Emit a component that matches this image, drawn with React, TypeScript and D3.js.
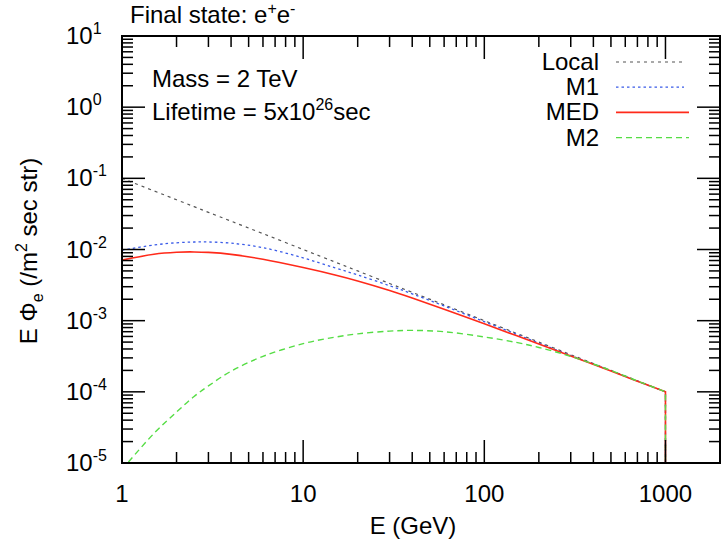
import React from 'react';
import * as d3 from 'd3';

const energies = [1, 1.5, 2, 2.5, 3, 4, 6, 10, 15, 20, 30, 40, 60, 100, 150, 200, 300, 500, 700, 1000];
const localFlux = [0.1, 0.0667, 0.05, 0.04, 0.0333, 0.025, 0.0167, 0.01, 0.00667, 0.005, 0.00333, 0.0025, 0.00167, 0.001, 6.67e-4, 5.0e-4, 3.33e-4, 2.0e-4, 1.43e-4, 1.0e-4];
const m1Flux = [0.00977, 0.01157, 0.01242, 0.01274, 0.01276, 0.01227, 0.01062, 0.00762, 0.00552, 0.00439, 0.0031, 0.00238, 0.00161, 9.68e-4, 6.46e-4, 4.84e-4, 3.24e-4, 1.98e-4, 1.41e-4, 1.0e-4];
const medFlux = [0.00708, 0.00859, 0.00916, 0.00924, 0.0091, 0.00855, 0.00729, 0.00557, 0.00438, 0.00361, 0.00265, 0.00208, 0.00145, 9.02e-4, 6.17e-4, 4.7e-4, 3.2e-4, 1.96e-4, 1.41e-4, 1.0e-4];
const m2Flux = [8.1e-6, 2.6e-5, 5.2e-5, 8.6e-5, 1.21e-4, 1.95e-4, 3.15e-4, 4.75e-4, 5.87e-4, 6.53e-4, 7.14e-4, 7.3e-4, 7.0e-4, 5.9e-4, 4.95e-4, 4.2e-4, 3.15e-4, 2.0e-4, 1.42e-4, 1.0e-4];

const xMajorTicks = [1, 10, 100, 1000];
const xTickLabels = ['1', '10', '100', '1000'];
const yMajorExps = [-5, -4, -3, -2, -1, 0, 1];
const seriesNames = ['Local', 'M1', 'MED', 'M2'];

const W = 724, H = 541;
const L = 122, R = 720, T = 36, B = 463;
const FONT = '"Liberation Sans", Arial, Helvetica, sans-serif';
const FS = 24, SFS = 16;

const styles = [
  { color: '#555555', dash: '3,4', width: 1.2 },
  { color: '#3a5be8', dash: '2.5,3', width: 1.3 },
  { color: '#ff2a1a', dash: 'none', width: 1.6 },
  { color: '#55dd44', dash: '6,4', width: 1.4 },
];

export default function App() {
  const x = d3.scaleLog().domain([1, 2000]).range([L, R]);
  const y = d3.scaleLog().domain([1e-5, 10]).range([B, T]);
  const series = [localFlux, m1Flux, medFlux, m2Flux];

  const line = d3
    .line<number>()
    .x((_, i) => x(energies[i]))
    .y((d) => y(d))
    .curve(d3.curveCatmullRom.alpha(0.5));

  const xMinor: number[] = [];
  for (let k = 0; k <= 3; k++) for (let m = 2; m <= 9; m++) { const v = m * 10 ** k; if (v <= 2000) xMinor.push(v); }
  const yMinor: number[] = [];
  for (let k = -5; k <= 0; k++) for (let m = 2; m <= 9; m++) yMinor.push(m * 10 ** k);

  const MAJ = 23, MIN = 11;
  const lastE = energies[energies.length - 1];

  return (
    <svg width={W} height={H} style={{ position: 'absolute', left: 0, top: 0, background: '#fff' }} fontFamily={FONT}>
      <defs>
        <clipPath id="plotclip">
          <rect x={L} y={T} width={R - L} height={B - T} />
        </clipPath>
      </defs>
      <rect x={0} y={0} width={W} height={H} fill="#fff" />
      {/* curves */}
      <g clipPath="url(#plotclip)">
        {series.map((s, i) => (
          <path
            key={seriesNames[i]}
            d={(line(s) as string) + `L${x(lastE)},${B}`}
            fill="none"
            stroke={styles[i].color}
            strokeWidth={styles[i].width}
            strokeDasharray={styles[i].dash}
          />
        ))}
      </g>
      {/* ticks */}
      <g stroke="#000" strokeWidth={1.5}>
        {xMajorTicks.map((v) => (
          <g key={'xm' + v}>
            <line x1={x(v)} x2={x(v)} y1={B} y2={B - MAJ} />
            <line x1={x(v)} x2={x(v)} y1={T} y2={T + MAJ} />
          </g>
        ))}
        {xMinor.map((v) => (
          <g key={'xn' + v}>
            <line x1={x(v)} x2={x(v)} y1={B} y2={B - MIN} />
            <line x1={x(v)} x2={x(v)} y1={T} y2={T + MIN} />
          </g>
        ))}
        {yMajorExps.map((e) => (
          <g key={'ym' + e}>
            <line x1={L} x2={L + MAJ} y1={y(10 ** e)} y2={y(10 ** e)} />
            <line x1={R} x2={R - MAJ} y1={y(10 ** e)} y2={y(10 ** e)} />
          </g>
        ))}
        {yMinor.map((v) => (
          <g key={'yn' + v}>
            <line x1={L} x2={L + MIN} y1={y(v)} y2={y(v)} />
            <line x1={R} x2={R - MIN} y1={y(v)} y2={y(v)} />
          </g>
        ))}
      </g>
      <rect x={L} y={T} width={R - L} height={B - T} fill="none" stroke="#000" strokeWidth={2} />
      {/* x tick labels */}
      {xMajorTicks.map((v, i) => (
        <text key={'xl' + v} x={x(v)} y={502} textAnchor="middle" fontSize={FS} fill="#000">
          {xTickLabels[i]}
        </text>
      ))}
      {/* y tick labels */}
      {yMajorExps.map((e) => (
        <text key={'yl' + e} x={66} y={y(10 ** e) + 8} fontSize={FS} fill="#000">
          10<tspan dy={-10} fontSize={SFS}>{String(e)}</tspan>
        </text>
      ))}
      {/* axis titles */}
      <text x={413} y={534} textAnchor="middle" fontSize={FS} fill="#000">E (GeV)</text>
      <text transform="translate(37,251) rotate(-90)" textAnchor="middle" fontSize={FS} fill="#000">
        E Φ<tspan dy={6} fontSize={SFS}>e</tspan>
        <tspan dy={-6}> (/m</tspan>
        <tspan dy={-10} fontSize={SFS}>2</tspan>
        <tspan dy={10}> sec str)</tspan>
      </text>
      {/* annotations */}
      <text x={130} y={23} fontSize={FS} fill="#000">
        Final state: e<tspan dy={-9} fontSize={SFS}>+</tspan>
        <tspan dy={9}>e</tspan>
        <tspan dy={-9} fontSize={SFS}>-</tspan>
      </text>
      <text x={152} y={87} fontSize={FS} fill="#000">Mass = 2 TeV</text>
      <text x={152} y={120} fontSize={FS} fill="#000">
        Lifetime = 5x10<tspan dy={-10} fontSize={SFS}>26</tspan>
        <tspan dy={10}>sec</tspan>
      </text>
      {/* legend */}
      {seriesNames.map((n, i) => {
        const yy = 62 + i * 25.2;
        return (
          <g key={'lg' + n}>
            <text x={599} y={yy + 8} textAnchor="end" fontSize={FS} fill="#000">{n}</text>
            <line x1={616} x2={i < 2 ? 684 : 689} y1={yy} y2={yy} stroke={styles[i].color} strokeWidth={styles[i].width} strokeDasharray={styles[i].dash} />
          </g>
        );
      })}
    </svg>
  );
}
